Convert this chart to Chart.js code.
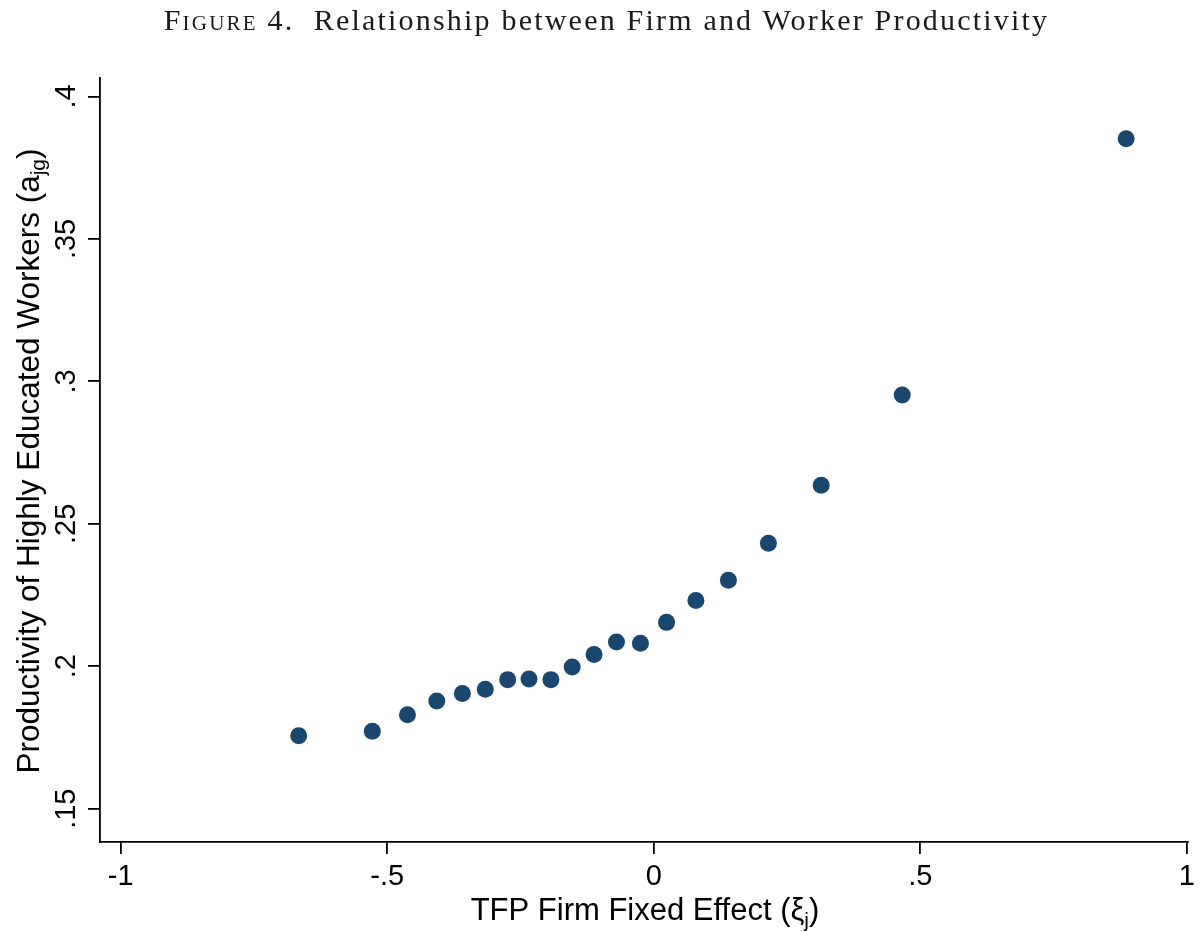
<!DOCTYPE html>
<html>
<head>
<meta charset="utf-8">
<title>Figure 4</title>
<script src="https://cdn.jsdelivr.net/npm/chart.js@4"></script>
<style>
    html, body { margin: 0; padding: 0; background: #fff; }
    #wrap { position: relative; width: 1201px; height: 932px; }
    #figTitle {
        position: absolute; left: 6px; top: 3px; width: 1201px;
        text-align: center; font-family: "Liberation Serif", serif;
        font-size: 30px; letter-spacing: 2.2px; color: #1a1a1a; white-space: nowrap;
    }
    #figTitle .sc { font-variant: small-caps; }
    canvas { position: absolute; left: 0; top: 0; }
</style>
</head>
<body>
<div id="wrap">
    <canvas id="scatterChart" width="1201" height="932"></canvas>
    <div id="figTitle"><span class="sc">Figure 4.</span>&nbsp; Relationship between Firm and Worker Productivity</div>
</div>
<script>
/* ---- data ---- */
const firmTFP = [-0.666, -0.528, -0.462, -0.407, -0.359, -0.316, -0.274, -0.234, -0.193, -0.153,
                 -0.112, -0.070, -0.025, 0.024, 0.079, 0.140, 0.215, 0.314, 0.466, 0.886];
const workerProd = [0.1756, 0.1772, 0.1830, 0.1878, 0.1904, 0.1919, 0.1953, 0.1955, 0.1953, 0.1997,
                    0.2041, 0.2085, 0.2081, 0.2154, 0.2231, 0.2302, 0.2432, 0.2635, 0.2952, 0.3852];

const xTickValues = [-1, -0.5, 0, 0.5, 1];
const xTickLabels = ['-1', '-.5', '0', '.5', '1'];
const yTickValues = [0.15, 0.2, 0.25, 0.3, 0.35, 0.4];
const yTickLabels = ['.15', '.2', '.25', '.3', '.35', '.4'];

const xTitleParts = [{ text: 'TFP Firm Fixed Effect (ξ' }, { text: 'j', sub: true }, { text: ')' }];
const yTitleParts = [{ text: 'Productivity of Highly Educated Workers (a' }, { text: 'jg', sub: true }, { text: ')' }];

const FONT = '"Liberation Sans", Arial, sans-serif';
const INK = '#000';

/**
 * Draw a line of text with subscripts, centred on the current origin
 */
function drawRich(ctx, parts, size, subSize, subShift) {
    ctx.textAlign = 'left';
    const widths = parts.map(p => {
        ctx.font = (p.sub ? subSize : size) + 'px ' + FONT;
        return ctx.measureText(p.text).width;
    });
    const total = widths.reduce((a, b) => a + b, 0);
    let x = -total / 2;
    parts.forEach((p, i) => {
        ctx.font = (p.sub ? subSize : size) + 'px ' + FONT;
        ctx.fillText(p.text, x, p.sub ? subShift : 0);
        x += widths[i];
    });
}

/* custom labels: rotated y ticks and the two axis titles */
const axisTextPlugin = {
    id: 'axisText',
    afterDraw(chart) {
        const ctx = chart.ctx;
        const yScale = chart.scales.y;
        const area = chart.chartArea;
        ctx.save();
        ctx.fillStyle = INK;
        ctx.textBaseline = 'alphabetic';

        // y tick labels, reading bottom to top
        ctx.font = '29px ' + FONT;
        yTickValues.forEach((v, i) => {
            const py = yScale.getPixelForValue(v);
            ctx.save();
            ctx.translate(75, py);
            ctx.rotate(-Math.PI / 2);
            ctx.textAlign = 'center';
            ctx.fillText(yTickLabels[i], 0, 0);
            ctx.restore();
        });

        // x axis title
        ctx.save();
        ctx.translate((area.left + area.right) / 2 + 1, 920);
        drawRich(ctx, xTitleParts, 31, 21, 7);
        ctx.restore();

        // y axis title
        ctx.save();
        ctx.translate(39, 461);
        ctx.rotate(-Math.PI / 2);
        drawRich(ctx, yTitleParts, 31.5, 21, 6);
        ctx.restore();

        ctx.restore();
    }
};

document.addEventListener('DOMContentLoaded', function () {
    const ctx = document.getElementById('scatterChart').getContext('2d');

    new Chart(ctx, {
        type: 'scatter',
        data: {
            datasets: [{
                data: firmTFP.map((x, i) => ({ x: x, y: workerProd[i] })),
                backgroundColor: '#1a476f',
                borderWidth: 0,
                pointRadius: 8.5,
                pointHoverRadius: 8.5
            }]
        },
        options: {
            responsive: false,
            animation: false,
            devicePixelRatio: 1,
            layout: { padding: { top: 78, right: 10, left: 0, bottom: 0 } },
            plugins: {
                legend: { display: false },
                tooltip: { enabled: false },
                title: { display: false }
            },
            scales: {
                x: {
                    type: 'linear',
                    min: -1.0387,
                    max: 1.002,
                    afterBuildTicks: s => { s.ticks = xTickValues.map(v => ({ value: v })); },
                    afterFit: s => { s.height = 90; },
                    ticks: {
                        autoSkip: false,
                        maxRotation: 0,
                        padding: 6,
                        color: INK,
                        font: { family: FONT, size: 29 },
                        callback: (value, index) => xTickLabels[index]
                    },
                    grid: { drawOnChartArea: false, drawTicks: true, tickLength: 12, color: INK, lineWidth: 1.8 },
                    border: { display: true, color: INK, width: 1.8 }
                },
                y: {
                    type: 'linear',
                    min: 0.1383,
                    max: 0.4065,
                    afterBuildTicks: s => { s.ticks = yTickValues.map(v => ({ value: v })); },
                    afterFit: s => { s.width = 100; },
                    ticks: { display: false },
                    grid: { drawOnChartArea: false, drawTicks: true, tickLength: 12, color: INK, lineWidth: 1.8 },
                    border: { display: true, color: INK, width: 1.8 }
                }
            }
        },
        plugins: [axisTextPlugin]
    });
});
</script>
</body>
</html>
